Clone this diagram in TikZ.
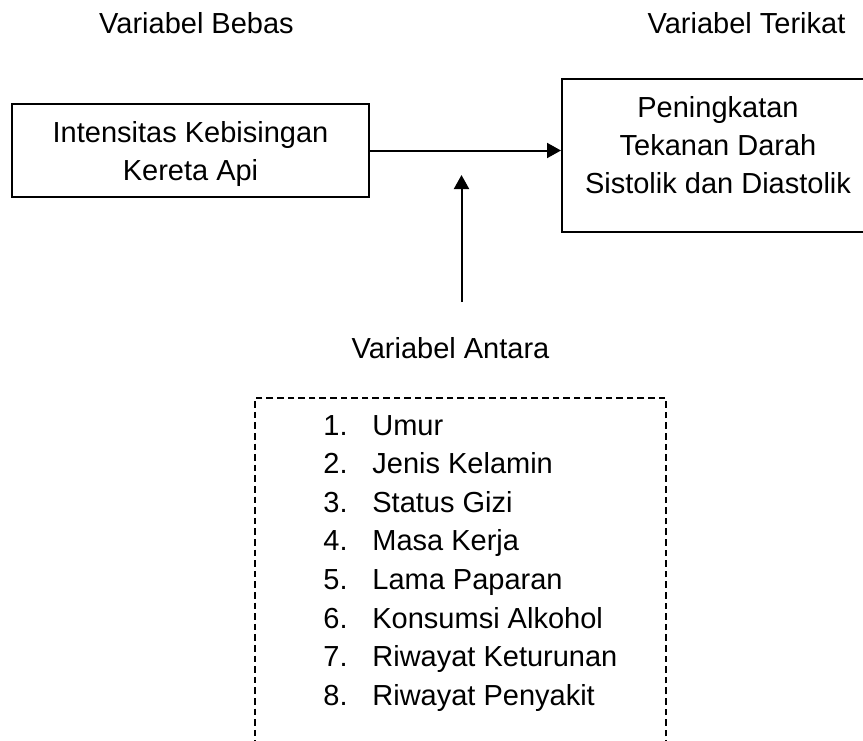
\documentclass[tikz,border=0pt]{standalone}
\usepackage{fontspec}
\setmainfont{Liberation Sans}
\usetikzlibrary{arrows.meta}
\usetikzlibrary{matrix}
\usetikzlibrary{positioning}

\tikzset{
  varlab/.style={anchor=base,inner sep=0pt},
  varbox/.style={draw,rectangle,line width=1pt,align=center},
  link/.style={draw,line width=1pt,-{Triangle[length=7pt,width=7.5pt]}},
}

\begin{document}
\begin{tikzpicture}[x=0.5pt,y=-0.5pt,font=\fontsize{14.5}{19}\selectfont]

  \useasboundingbox (0,0) rectangle (863,740);

  \node [varlab] (Xlab) at (196.5,33) {Variabel Bebas};
  \node [varlab] (Ylab) at (746.5,33) {Variabel Terikat};
  \node [varlab] (Zlab) at (450.5,358) {Variabel Antara};

  \node [varbox,minimum width=178.5pt,minimum height=46.5pt] (X) at (190.5,150.5) {};
  \node [align=center] (Xtext) at ([yshift=-1.75pt]X.center) {Intensitas Kebisingan\\Kereta Api};
  \node [varbox,minimum width=156pt,minimum height=76.5pt] (Y) at (718,155.5) {};
  \node [align=center] (Ytext) at ([yshift=5pt]Y.center) {Peningkatan\\Tekanan Darah\\Sistolik dan Diastolik};

  \coordinate (Z_from) at (461.5,302);
  \coordinate (Z_to) at (461.5,175);

  \path [link] (X.east) -- (X.east -| Y.west);
  \path [link] (Z_from) -- (Z_to);

  \node [draw,dash pattern=on 3.3pt off 2pt,line width=0.9pt,minimum width=205.5pt,minimum height=181pt] (Z) at (460.5,579) {};

  \matrix (Zlist) [matrix of nodes,matrix anchor=Zlist-1-1.base west,nodes={anchor=base west,inner sep=0pt},
    column sep={24.5pt,between origins},row sep={19.3pt,between origins},ampersand replacement=\&] at (323,435) {
    1. \& Umur \\
    2. \& Jenis Kelamin \\
    3. \& Status Gizi \\
    4. \& Masa Kerja \\
    5. \& Lama Paparan \\
    6. \& Konsumsi Alkohol \\
    7. \& Riwayat Keturunan \\
    8. \& Riwayat Penyakit \\
  };

\end{tikzpicture}
\end{document}
